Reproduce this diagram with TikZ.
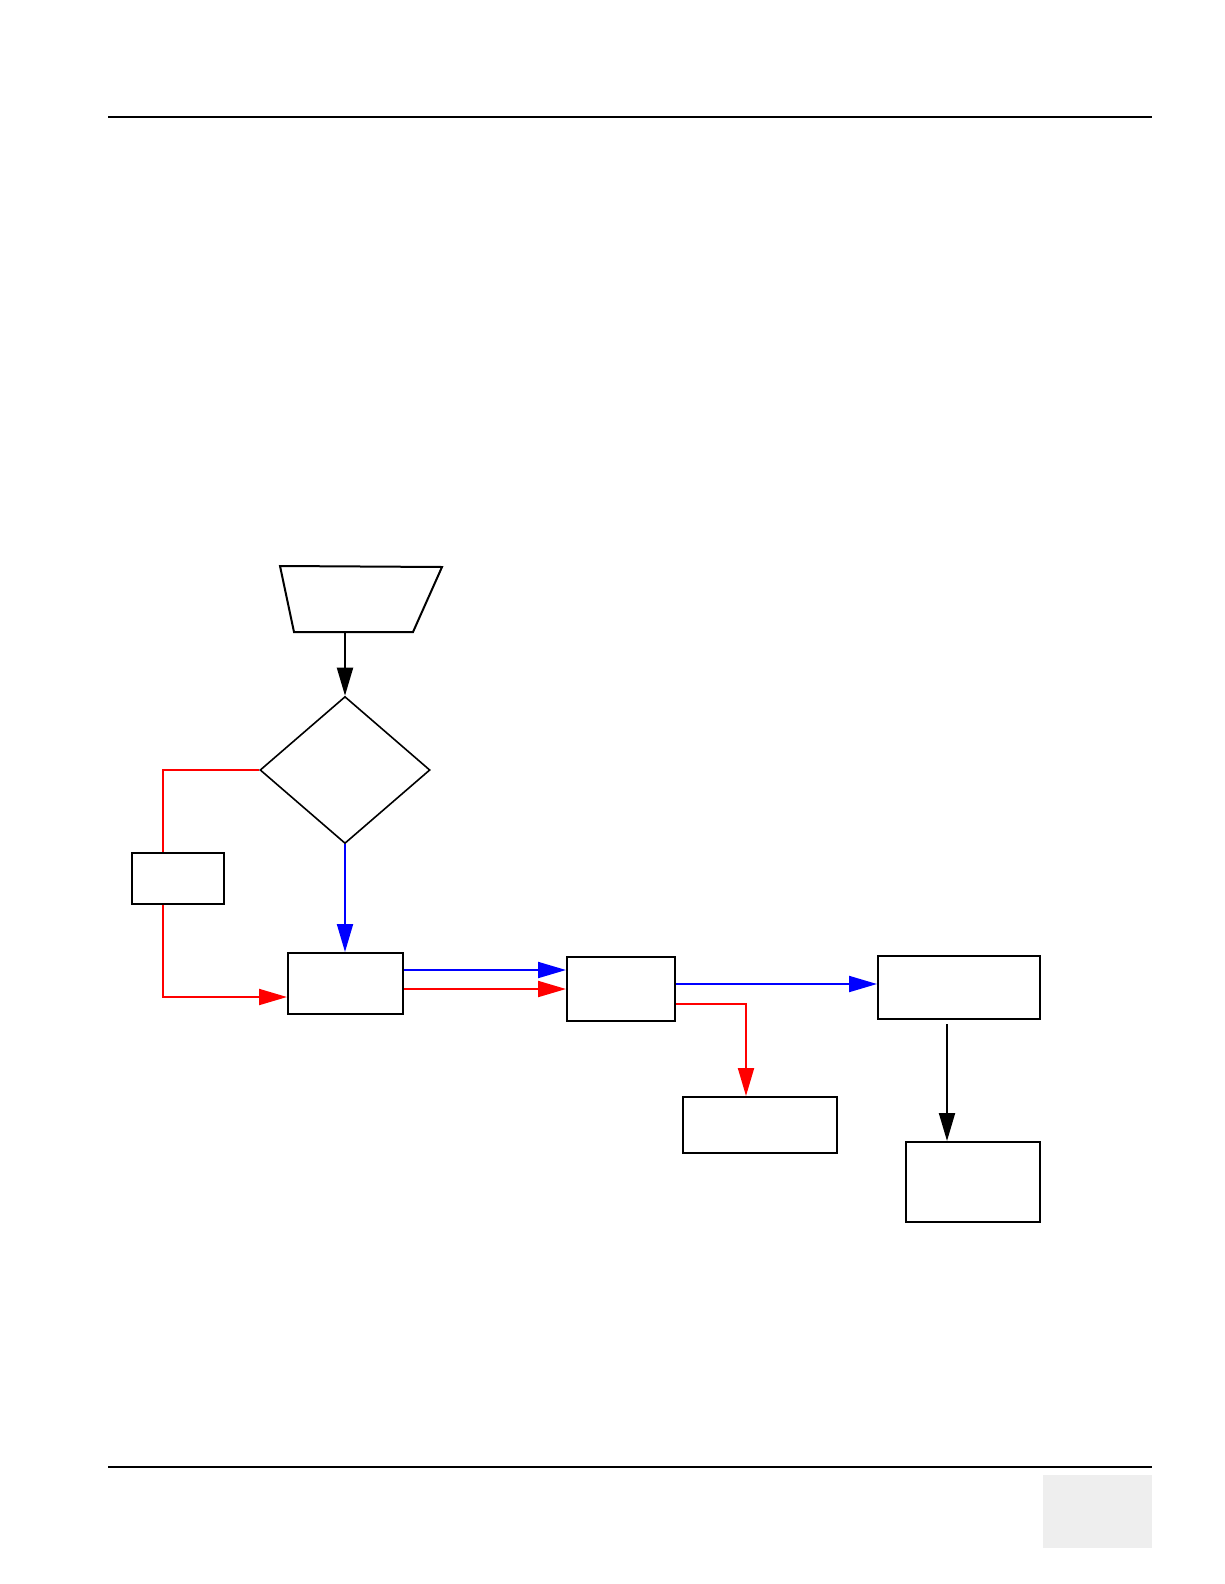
\documentclass[tikz,border=0pt]{standalone}
\usepackage{tikz}
\usetikzlibrary{shapes.geometric, arrows.meta, positioning}
\definecolor{pagegray}{RGB}{238,238,238}
\tikzset{
    stepbox/.style={draw, rectangle, inner sep=0pt, draw=black, line width=2pt},
    choice/.style={draw, diamond, inner sep=0pt, draw=black, line width=1.6pt},
    inputshape/.style={draw=black, line width=2pt, line join=miter},
    blackarrow/.style={-{Triangle[length=28pt,width=16pt]}, line width=2pt, draw=black},
    bluearrow/.style={-{Triangle[length=28pt,width=16pt]}, line width=2pt, draw=blue},
    redarrow/.style={-{Triangle[length=28pt,width=16pt]}, line width=2pt, draw=red},
    redline/.style={line width=2pt, draw=red}
}
\begin{document}
\begin{tikzpicture}[x=1pt, y=-1pt]
        \useasboundingbox (0,0) rectangle (1224,1584);

        % -----------------------------------------------------------------
        % PAGE FRAME
        % -----------------------------------------------------------------
        \draw[line width=1.5pt] (108,117) -- (1152,117);
        \draw[line width=1.5pt] (108,1467) -- (1152,1467);
        \fill[pagegray] (1043,1475) rectangle (1152,1548);

        % -----------------------------------------------------------------
        % NODES
        % -----------------------------------------------------------------
        \coordinate (inNW) at (280,566);
        \coordinate (inNE) at (442,567);
        \coordinate (inSE) at (413,632);
        \coordinate (inSW) at (294,632);
        \draw[inputshape] (inNW) -- (inNE) -- (inSE) -- (inSW) -- cycle;
        \coordinate (input) at (347,632);

        \node[choice, minimum width=170pt, minimum height=147pt] (check) at (345,770) {};
        \node[stepbox, minimum width=92pt, minimum height=51pt] (retry) at (178,878.5) {};
        \node[stepbox, minimum width=115pt, minimum height=61pt] (prep) at (345.5,983.5) {};
        \node[stepbox, minimum width=108pt, minimum height=64pt] (route) at (621,989) {};
        \node[stepbox, minimum width=162pt, minimum height=63pt] (accept) at (959,987.5) {};
        \node[stepbox, minimum width=154pt, minimum height=56pt] (reject) at (760,1125) {};
        \node[stepbox, minimum width=134pt, minimum height=80pt] (done) at (973,1182) {};

        % -----------------------------------------------------------------
        % CONNECTORS
        % -----------------------------------------------------------------
        \draw[blackarrow] (check.north |- input) -- (check.north);
        \draw[bluearrow] (check.south) -- (check.south |- prep.north);
        \draw[redline] (check.west) -| ([xshift=-15pt]retry.north);
        \draw[redarrow] ([xshift=-15pt]retry.south) |- ([yshift=-13.5pt]prep.west);

        \coordinate (prepblue) at ([yshift=13.5pt]prep.east);
        \draw[bluearrow] (prepblue) -- (prepblue -| route.west);
        \draw[redarrow] (prep.east |- route.west) -- (route.west);

        \coordinate (routeblue) at ([yshift=5pt]route.east);
        \draw[bluearrow] (routeblue) -- (routeblue -| accept.west);
        \draw[redarrow] ([yshift=-15pt]route.east) -| ([xshift=-14pt]reject.north);

        \coordinate (acceptout) at ([xshift=-12pt, yshift=-4pt]accept.south);
        \draw[blackarrow] (acceptout) -- (acceptout |- done.north);

    \end{tikzpicture}
\end{document}
